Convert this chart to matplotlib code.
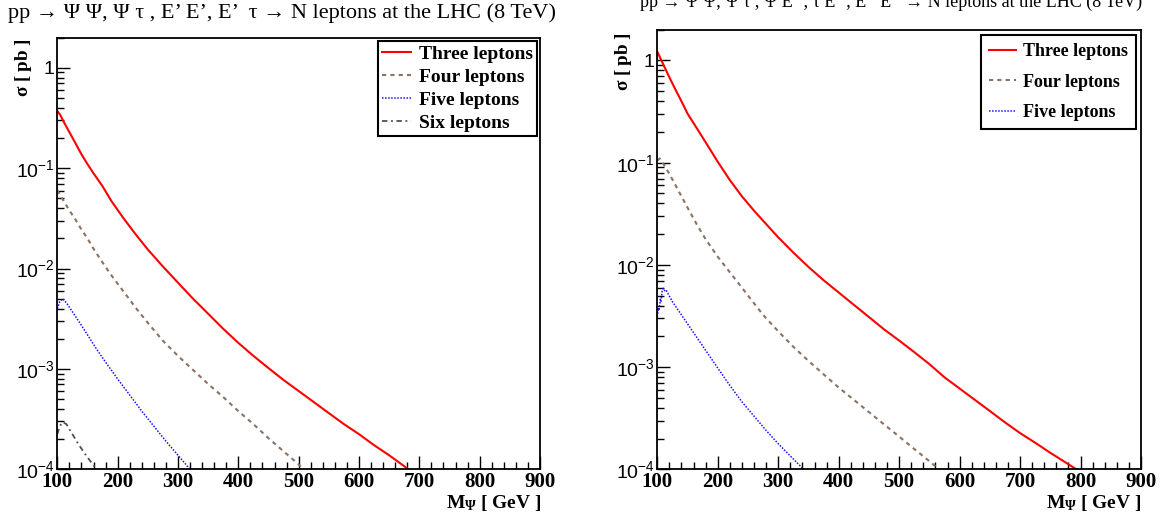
import matplotlib
matplotlib.use("Agg")
import matplotlib.pyplot as plt
from matplotlib.ticker import FixedLocator, MultipleLocator, LogLocator, NullFormatter

plt.rcParams['font.family'] = ['Liberation Serif', 'DejaVu Serif']
plt.rcParams['mathtext.fontset'] = 'custom'
plt.rcParams['mathtext.rm'] = 'Liberation Serif'
plt.rcParams['mathtext.bf'] = 'Liberation Serif:bold'
plt.rcParams['mathtext.it'] = 'Liberation Serif:italic'
plt.rcParams['mathtext.sf'] = 'Liberation Sans'

# ---------------- data (left panel) : M_Psi [GeV], sigma [pb] ----------------
m_three_L = [100, 105, 110, 120, 130, 140, 150, 160, 175, 190, 210, 230, 250, 275, 300, 325, 350,
             375, 400, 425, 450, 475, 500, 525, 550, 575, 600, 625, 650, 682]
s_three_L = [0.372, 0.339, 0.295, 0.229, 0.178, 0.138, 0.110, 0.0891, 0.0661, 0.0468, 0.0316,
             0.0219, 0.0155, 0.0105, 0.00724, 0.00501, 0.00355, 0.00251, 0.00182, 0.00135,
             0.00102, 0.000776, 0.000603, 0.000468, 0.000363, 0.000282, 0.000224, 0.000174,
             0.000138, 0.0001]
m_four_L = [100, 110, 120, 130, 140, 150, 160, 175, 190, 210, 230, 250, 275, 300, 325, 350, 375,
            400, 425, 450, 475, 500, 508]
s_four_L = [0.0603, 0.0479, 0.0380, 0.0309, 0.0245, 0.0200, 0.0158, 0.0115, 0.00851, 0.00589,
            0.00407, 0.00288, 0.00191, 0.00135, 0.000977, 0.000708, 0.000525, 0.000380,
            0.000282, 0.000204, 0.000151, 0.000112, 0.0001]
m_five_L = [100, 104, 109, 115, 125, 135, 150, 165, 180, 200, 220, 240, 260, 280, 300, 320]
s_five_L = [0.00398, 0.00468, 0.00501, 0.00457, 0.00372, 0.00302, 0.00219, 0.00158, 0.00117,
            0.000794, 0.000550, 0.000380, 0.000269, 0.000191, 0.000138, 0.0001]
m_six_L = [100, 104, 109, 115, 125, 135, 145, 155, 165]
s_six_L = [0.000224, 0.000269, 0.000295, 0.000282, 0.000224, 0.000178, 0.000145, 0.000120, 0.0001]

# ---------------- data (right panel) ----------------
m_three_R = [100, 110, 120, 130, 140, 150, 165, 180, 200, 220, 240, 260, 280, 300, 325, 350, 375,
             400, 425, 450, 475, 500, 525, 550, 575, 600, 625, 650, 675, 700, 725, 750, 775, 793]
s_three_R = [1.22, 0.912, 0.684, 0.519, 0.398, 0.302, 0.219, 0.158, 0.102, 0.0676, 0.0468, 0.0339,
             0.0251, 0.0186, 0.0132, 0.00955, 0.00708, 0.00537, 0.00407, 0.00309, 0.00234,
             0.00182, 0.00140, 0.00107, 0.000794, 0.000617, 0.000479, 0.000372, 0.000288,
             0.000226, 0.000182, 0.000145, 0.000117, 0.0001]
m_four_R = [100, 104, 110, 120, 130, 140, 150, 165, 180, 200, 225, 250, 275, 300, 325, 350, 375,
            400, 425, 450, 475, 500, 525, 550, 566]
s_four_R = [0.105, 0.110, 0.0977, 0.0776, 0.0603, 0.0468, 0.0363, 0.0251, 0.0178, 0.0120, 0.00776,
            0.00501, 0.00324, 0.00224, 0.00158, 0.00115, 0.000851, 0.000631, 0.000479, 0.000363,
            0.000275, 0.000209, 0.000158, 0.000120, 0.0001]
m_five_R = [100, 102, 103, 105, 106, 108, 110, 113, 115, 125, 140, 155, 170, 185, 200, 220, 240,
            260, 280, 300, 320, 342]
s_five_R = [0.0031, 0.0038, 0.0036, 0.0046, 0.0044, 0.0055, 0.0059, 0.0055, 0.0056, 0.00437,
            0.00324, 0.00240, 0.00178, 0.00132, 0.000977, 0.000661, 0.000457, 0.000331,
            0.000240, 0.000178, 0.000135, 0.0001]

labels_L = ["Three leptons", "Four leptons", "Five leptons", "Six leptons"]
labels_R = ["Three leptons", "Four leptons", "Five leptons"]
x_ticks = [100, 200, 300, 400, 500, 600, 700, 800, 900]
y_ticks = [1e-4, 1e-3, 1e-2, 1e-1, 1]
y_ticklabels = [r'$\mathsf{10^{-4}}$', r'$\mathsf{10^{-3}}$', r'$\mathsf{10^{-2}}$',
                r'$\mathsf{10^{-1}}$', r'$\mathsf{1}$']

title_L = "pp \u2192 \u03a8 \u03a8, \u03a8 \u03c4 , E\u2019 E\u2019, E\u2019  \u03c4 \u2192 N leptons at the LHC (8 TeV)"
title_R = "pp \u2192 \u03a8 \u03a8, \u03a8 \u03c4 , \u03a8 E\u2019\u2019, \u03c4 E\u2019\u2019, E\u2019\u2019 E\u2019\u2019 \u2192 N leptons at the LHC (8 TeV)"

styles = [dict(color='#ff0000', lw=1.5, ls='-'),
          dict(color='#8c7262', lw=1.5, ls=(0, (2, 2))),
          dict(color='#1414ff', lw=1.1, ls=(0, (1, 1))),
          dict(color='#505050', lw=1.3, ls=(0, (3, 2, 1, 2)))]

W, H = 1168, 521
fig = plt.figure(figsize=(W / 100, H / 100), dpi=100)

def px_axes(x0, x1, y0, y1):
    return fig.add_axes([x0 / W, 1 - y1 / H, (x1 - x0) / W, (y1 - y0) / H])

axL = px_axes(57.3, 540.0, 37.7, 469.3)
axR = px_axes(657.3, 1141.0, 29.7, 469.3)

def style_axis(ax):
    ax.set_yscale('log')
    ax.set_xlim(100, 900)
    ax.set_ylim(1e-4, 2.0)
    ax.xaxis.set_major_locator(FixedLocator(x_ticks))
    ax.xaxis.set_minor_locator(MultipleLocator(20))
    ax.yaxis.set_major_locator(FixedLocator(y_ticks))
    ax.yaxis.set_minor_locator(LogLocator(base=10, subs=range(2, 10)))
    ax.yaxis.set_minor_formatter(NullFormatter())
    ax.set_xticklabels([str(v) for v in x_ticks], fontweight='bold', fontsize=15,
                       family=['Liberation Serif', 'DejaVu Serif'])
    ax.set_yticklabels(y_ticklabels, fontsize=14)
    ax.tick_params(which='both', direction='in', top=False, right=False, color='black')
    ax.tick_params(which='major', length=9.5, width=1.0)
    ax.tick_params(which='minor', length=4.8, width=1.0)
    ax.tick_params(axis='x', which='major', pad=2)
    ax.tick_params(axis='y', which='major', pad=2)
    for sp in ax.spines.values():
        sp.set_linewidth(1.3)
        sp.set_color('black')

for ax in (axL, axR):
    style_axis(ax)

series_L = [(m_three_L, s_three_L), (m_four_L, s_four_L), (m_five_L, s_five_L), (m_six_L, s_six_L)]
for (m, s), st, lab in zip(series_L, styles, labels_L):
    axL.plot(m, s, label=lab, **st)
series_R = [(m_three_R, s_three_R), (m_four_R, s_four_R), (m_five_R, s_five_R)]
for (m, s), st, lab in zip(series_R, styles, labels_R):
    axR.plot(m, s, label=lab, **st)

leg_base = dict(frameon=True, fancybox=False, edgecolor='black', framealpha=1,
                handlelength=1.5, handletextpad=0.4, borderaxespad=0)
legL = axL.legend(loc='upper right', bbox_to_anchor=(0.994, 0.992), labelspacing=0.28,
                  borderpad=0.2,
                  prop={'family': 'Liberation Serif', 'weight': 'bold', 'size': 14}, **leg_base)
legR = axR.legend(loc='upper right', bbox_to_anchor=(0.99, 0.988), labelspacing=0.75,
                  borderpad=0.45,
                  prop={'family': 'Liberation Serif', 'weight': 'bold', 'size': 13}, **leg_base)
for leg in (legL, legR):
    leg.get_frame().set_linewidth(1.5)

# titles
fig.text(8 / W, 1 - 13 / H, title_L, fontsize=16, ha='left', va='center')
fig.text(640 / W, 1 - 2 / H, title_R, fontsize=13, ha='left', va='center')

# axis labels
ylab = r'$\mathbf{\sigma\ [\ pb\ ]}$'
fig.text(24 / W, 1 - 38 / H, ylab, rotation=90, ha='center', va='top', fontsize=13.8)
fig.text(624 / W, 1 - 32 / H, ylab, rotation=90, ha='center', va='top', fontsize=13.8)
xlab = r'$\mathbf{M_{\Psi}\ [\ GeV\ ]}$'
fig.text(541 / W, 1 - 503 / H, xlab, ha='right', va='center', fontsize=14)
fig.text(1141 / W, 1 - 503 / H, xlab, ha='right', va='center', fontsize=14)

fig.savefig('out.png', dpi=100)
